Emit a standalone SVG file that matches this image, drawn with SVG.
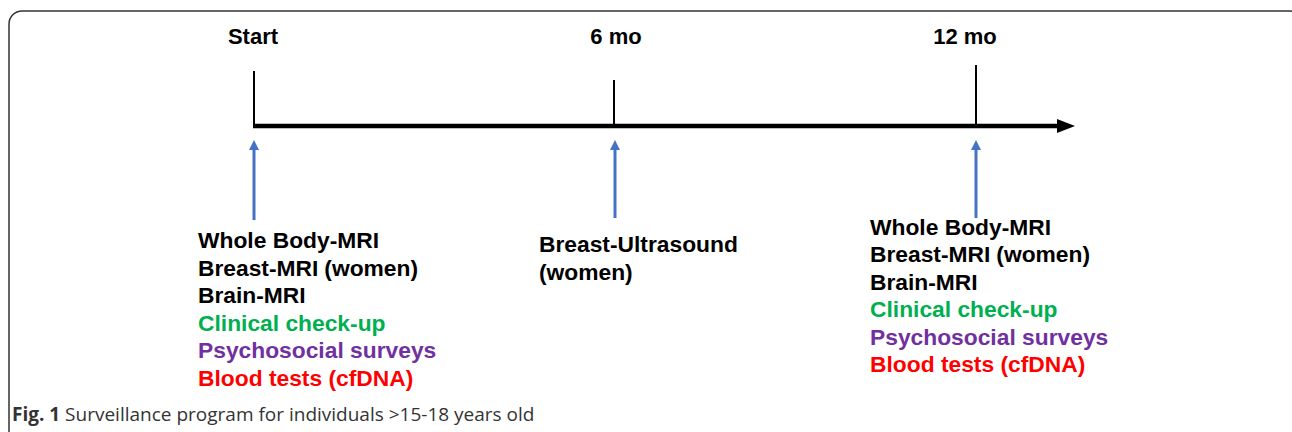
<svg xmlns="http://www.w3.org/2000/svg" width="1292" height="432" viewBox="0 0 1292 432">
<style>
.lbl{font-family:"Liberation Sans",Arial,sans-serif;font-weight:bold;font-size:22.8px;fill:#000}
.hd{font-family:"Liberation Sans",Arial,sans-serif;font-weight:bold;font-size:22px;fill:#000;text-anchor:middle}
.g{fill:#00B050}.p{fill:#7030A0}.r{fill:#FF0000}
.cap{font-family:"Open Sans","Noto Sans",sans-serif;font-size:19px;fill:#333}
.tick{stroke:#000;stroke-width:2}
.blue{stroke:#4472C4;stroke-width:3}
</style>
<defs>
<marker id="bh" markerWidth="10" markerHeight="10" refX="2" refY="5" orient="auto" markerUnits="userSpaceOnUse">
<path d="M0,0 L10,5 L0,10 Z" fill="#4472C4"/>
</marker>
<marker id="kh" markerWidth="18" markerHeight="14" refX="2" refY="7" orient="auto" markerUnits="userSpaceOnUse">
<path d="M0,0 L18,7 L0,14 Z" fill="#000"/>
</marker>
</defs>
<rect x="9" y="11" width="1294" height="440" rx="13" fill="none" stroke="#333" stroke-width="1.5"/>
<g id="connectors">
<line x1="253" y1="126" x2="1059" y2="126" stroke="#000" stroke-width="4.5" marker-end="url(#kh)"/>
<line class="tick" x1="254" y1="71" x2="254" y2="127"/>
<line class="tick" x1="614" y1="80" x2="614" y2="127"/>
<line class="tick" x1="976" y1="65" x2="976" y2="127"/>
<line class="blue" x1="254" y1="220" x2="254" y2="148" marker-end="url(#bh)"/>
<line class="blue" x1="615" y1="218" x2="615" y2="148" marker-end="url(#bh)"/>
<line class="blue" x1="976" y1="218" x2="976" y2="148" marker-end="url(#bh)"/>
</g>
<g id="start"><text class="hd" x="253" y="44">Start</text></g>
<g id="m6"><text class="hd" x="616" y="44">6 mo</text></g>
<g id="m12"><text class="hd" x="965" y="44">12 mo</text></g>
<g id="start-items">
<text class="lbl" x="198" y="248">Whole Body-MRI</text>
<text class="lbl" x="198" y="276">Breast-MRI<tspan dx="6">(women)</tspan></text>
<text class="lbl" x="198" y="303">Brain-MRI</text>
<text class="lbl g" x="198" y="331">Clinical check-up</text>
<text class="lbl p" x="198" y="358">Psychosocial surveys</text>
<text class="lbl r" x="198" y="386">Blood tests (cfDNA)</text>
</g>
<g id="m6-items">
<text class="lbl" x="539" y="252">Breast-Ultrasound</text>
<text class="lbl" x="539" y="280">(women)</text>
</g>
<g id="m12-items">
<text class="lbl" x="870" y="235">Whole Body-MRI</text>
<text class="lbl" x="870" y="262">Breast-MRI<tspan dx="6">(women)</tspan></text>
<text class="lbl" x="870" y="290">Brain-MRI</text>
<text class="lbl g" x="870" y="317">Clinical check-up</text>
<text class="lbl p" x="870" y="345">Psychosocial surveys</text>
<text class="lbl r" x="870" y="372">Blood tests (cfDNA)</text>
</g>
<g id="caption">
<text class="cap" x="12" y="421"><tspan font-weight="bold">Fig. 1</tspan> Surveillance program for individuals &gt;15-18 years old</text>
</g>
</svg>
